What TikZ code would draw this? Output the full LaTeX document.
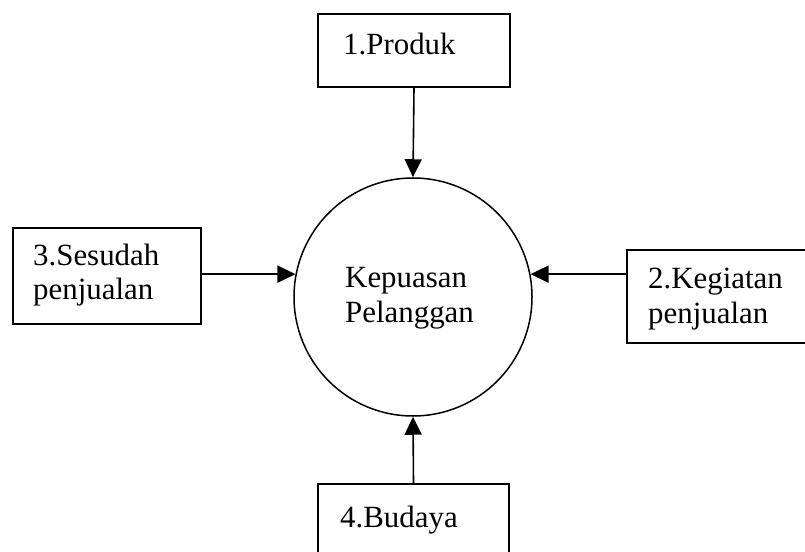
\documentclass[tikz,border=0pt]{standalone}
\usepackage{fontspec}
\setmainfont{Liberation Serif}
\usetikzlibrary{arrows.meta}
\begin{document}
\begin{tikzpicture}[x=1bp,y=-1bp,
  box/.style={draw, line width=1.8bp, inner sep=0pt},
  lbl/.style={font=\fontsize{31}{35}\selectfont, inner sep=0pt, anchor=base west, align=left},
  arr/.style={line width=1.6bp, -{Triangle[length=18bp,width=17bp]}}]
\clip (0,0) rectangle (805,552);
\fill[white] (0,0) rectangle (805,552);

% central circle (multi-line labels are placed by their last baseline)
\node[draw, circle, line width=1.5bp, minimum size=238bp, inner sep=0pt] (kp) at (413,297) {};
\node[lbl] (kpt) at (345,322) {Kepuasan\\Pelanggan};

% factor boxes
\node[box, minimum width=192bp, minimum height=73bp] (produk) at (414,50.5) {};
\node[lbl] (produkt) at (343,55) {1.Produk};

\node[box, minimum width=188bp, minimum height=96bp] (sesudah) at (107,276) {};
\node[lbl] (sesudaht) at (33,300) {3.Sesudah\\penjualan};

\node[box, minimum width=203bp, minimum height=93bp] (kegiatan) at (728.5,296.5) {};
\node[lbl] (kegiatant) at (648,323) {2.Kegiatan\\penjualan};

\node[box, minimum width=191bp, minimum height=90bp] (budaya) at (413.5,529) {};
\node[lbl] (budayat) at (340,527) {4.Budaya};

% connectors into the circle
\draw[arr] (produk.south) -- (kp.north);
\draw[arr] (kp.169 -| sesudah.east) -- (kp.169);
\draw[arr] (kp.11 -| kegiatan.west) -- (kp.11);
\draw[arr] (budaya.north) -- (kp.south);
\end{tikzpicture}
\end{document}
